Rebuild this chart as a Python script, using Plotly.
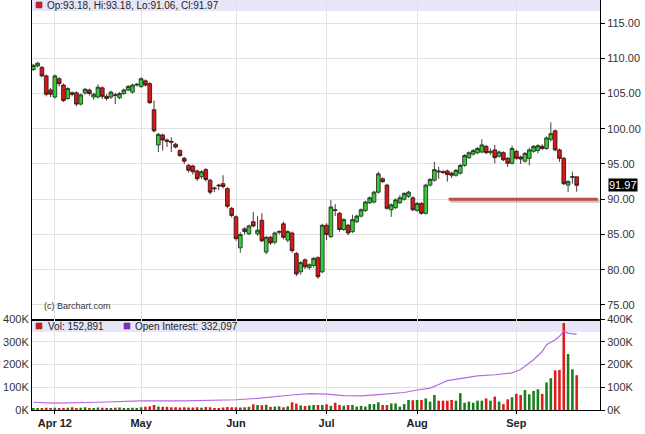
import plotly.graph_objects as go

# ---------------- data ----------------
opens = [108.4, 108.9, 108.7, 107.5, 105.5, 104.5, 107.1, 106.2, 104.3, 105.1,
         105.1, 103.5, 105.1, 105.5, 104.5, 104.5, 105.8, 104.6, 104.5, 104.8,
         104.4, 105.0, 105.5, 105.2, 106.2, 106.0, 106.8, 106.4, 102.7, 97.7,
         99.1, 98.4, 98.2, 97.8, 96.9, 95.8, 94.8, 94.7, 94.0, 93.2,
         94.2, 92.7, 91.6, 92.0, 92.2, 91.5, 88.7, 87.5, 83.1, 85.8,
         85.1, 86.8, 85.1, 87.0, 82.5, 84.6, 83.9, 85.3, 86.5, 84.2,
         85.2, 82.3, 79.7, 81.4, 80.3, 80.6, 81.7, 79.7, 86.3, 84.7,
         88.5, 88.0, 85.7, 86.3, 85.4, 86.8, 87.6, 88.4, 89.5, 89.6,
         91.0, 92.9, 92.0, 88.5, 88.8, 89.5, 90.0, 90.4, 90.2, 88.4,
         89.4, 88.0, 92.0, 92.7, 94.0, 93.9, 94.0, 93.7, 93.4, 93.7,
         94.8, 95.9, 96.4, 96.6, 96.7, 97.5, 96.6, 97.0, 96.1, 96.6,
         95.8, 95.1, 96.8, 96.0, 95.4, 95.8, 96.8, 96.9, 97.5, 97.2,
         98.5, 99.7, 97.0, 95.8, 92.0, 93.1, 93.18]
highs = [109.2, 109.5, 108.9, 107.7, 105.8, 107.7, 107.3, 106.4, 105.9, 105.3,
         105.3, 105.0, 105.8, 105.7, 105.1, 106.3, 106.0, 104.9, 105.4, 105.1,
         105.2, 105.7, 106.2, 106.4, 106.5, 107.3, 107.0, 106.6, 104.0, 99.4,
         99.3, 98.6, 98.8, 98.0, 97.1, 96.0, 95.0, 94.9, 94.2, 94.1,
         94.4, 92.9, 91.8, 92.2, 93.4, 91.7, 88.9, 87.7, 85.3, 86.0,
         86.4, 88.2, 87.6, 88.0, 84.8, 84.8, 85.4, 85.6, 86.8, 85.6,
         85.4, 82.5, 81.2, 81.6, 80.9, 81.8, 81.9, 86.5, 86.6, 89.9,
         89.3, 88.2, 87.3, 86.5, 87.8, 87.8, 88.7, 89.8, 90.4, 91.2,
         93.9, 93.1, 92.2, 89.4, 90.1, 90.6, 91.0, 91.2, 90.4, 89.6,
         89.6, 92.2, 93.0, 95.3, 94.6, 94.1, 94.2, 93.9, 94.3, 95.0,
         96.4, 96.8, 97.1, 97.4, 98.5, 97.7, 97.2, 97.7, 96.9, 96.8,
         96.0, 97.6, 97.0, 96.2, 96.7, 97.3, 97.7, 97.8, 97.8, 98.9,
         100.9, 99.9, 97.2, 96.0, 92.7, 93.9, 93.18]
lows = [108.2, 108.7, 107.3, 104.6, 104.5, 104.3, 106.0, 103.8, 104.1, 104.6,
        103.2, 103.3, 104.8, 104.7, 104.1, 104.3, 104.2, 104.0, 104.2, 103.5,
        104.2, 104.8, 105.3, 105.0, 106.0, 105.8, 106.0, 103.5, 99.5, 96.7,
        96.9, 97.4, 96.7, 97.2, 96.0, 95.0, 93.8, 93.5, 92.6, 92.9,
        92.5, 90.7, 91.0, 91.3, 91.5, 88.7, 87.4, 84.1, 82.4, 85.0,
        84.9, 86.0, 84.8, 83.9, 82.2, 83.5, 83.6, 85.0, 84.3, 83.9,
        82.4, 79.1, 79.3, 80.1, 80.0, 80.3, 78.7, 79.5, 84.2, 84.5,
        87.6, 85.4, 85.5, 84.9, 85.2, 86.6, 87.4, 88.2, 89.3, 89.4,
        90.8, 92.3, 88.5, 87.5, 88.6, 89.3, 89.8, 90.2, 88.3, 88.2,
        87.8, 87.8, 91.8, 92.5, 92.9, 93.6, 92.5, 93.0, 93.2, 93.5,
        94.6, 95.7, 96.2, 96.4, 96.5, 96.4, 96.3, 95.1, 95.9, 95.4,
        94.6, 94.9, 95.6, 95.0, 95.2, 94.8, 96.6, 96.5, 97.0, 97.0,
        98.2, 96.8, 95.3, 92.0, 91.0, 92.2, 91.06]
closes = [109.0, 109.3, 107.5, 104.9, 104.9, 107.5, 106.4, 104.0, 105.7, 104.9,
          103.5, 104.8, 105.6, 105.0, 104.9, 105.9, 104.6, 104.3, 105.2, 104.75,
          105.0, 105.5, 106.0, 106.2, 106.3, 107.1, 106.2, 103.7, 99.7, 99.2,
          98.4, 98.2, 98.1, 97.4, 96.2, 95.4, 94.1, 93.9, 92.9, 93.9,
          92.8, 91.0, 91.5, 91.9, 91.8, 89.0, 87.7, 84.4, 85.0, 85.4,
          86.2, 86.2, 85.6, 84.1, 84.6, 83.8, 85.2, 85.4, 84.6, 85.4,
          82.7, 79.4, 81.0, 80.4, 80.7, 81.6, 79.0, 86.3, 85.0, 88.9,
          88.4, 85.7, 87.1, 85.2, 87.1, 87.6, 88.5, 89.6, 90.2, 91.0,
          93.6, 92.5, 88.7, 89.2, 89.9, 90.2, 90.8, 91.0, 88.5, 89.4,
          88.0, 92.0, 92.8, 94.2, 93.9, 93.8, 93.5, 93.4, 94.1, 94.8,
          96.2, 96.6, 96.9, 97.2, 97.7, 96.6, 96.8, 95.9, 96.7, 95.6,
          95.1, 97.2, 95.8, 95.7, 96.5, 97.0, 97.5, 97.6, 97.2, 98.7,
          99.3, 97.0, 95.8, 92.2, 92.5, 93.2, 91.97]

volume_k = [6, 8, 8, 10, 9,
            10, 8, 9, 10, 12, 8, 10, 12, 9, 8, 11, 10, 9, 8, 10, 11, 9, 8, 10, 9,
            12, 14, 16, 22, 15, 14, 14, 12, 12, 11, 12, 11, 11, 12, 10, 13, 12, 8, 9, 11, 13, 12,
            12, 11, 12, 14, 25, 22, 21, 23, 14, 15, 16, 12, 16, 34, 28, 20, 18, 20, 22, 22,
            22, 25, 18, 32, 22, 19, 22, 22, 15, 18, 15, 26, 26, 34, 22, 22, 29, 29, 15, 26,
            44, 43, 44, 44, 51, 37, 66, 41, 41, 41, 44, 41, 74, 32, 37, 32, 41, 41, 51, 41,
            59, 37, 26, 47, 56, 71, 66, 88, 69, 84, 91, 71, 121, 140, 174, 176, 382, 246, 179, 152.891]

oi_idx = [0, 5, 15, 25, 35, 47, 52, 56, 60, 64, 68, 72, 76, 80, 84, 86, 89, 92, 94, 96,
          99, 103, 107, 111, 113, 115, 116, 118, 119, 121, 122, 123, 124, 126]
oi_k = [34, 30, 34, 40, 40, 45, 51, 60, 66, 72, 70, 63, 62, 68, 74, 77, 88, 96, 112, 129,
        138, 150, 155, 163, 178, 209, 221, 257, 287, 309, 324, 346, 338, 332.097]

month_ticks = [5, 25, 47, 68, 89, 112]
month_labels = ["Apr 12", "May", "Jun", "Jul", "Aug", "Sep"]
price_ticks = [75, 80, 85, 90, 95, 100, 105, 110, 115]
vol_ticks_k = [0, 100, 200, 300, 400]

support_level = 90.0
support_span = (96.3, 130.9)

legend_text = "Op:93.18, Hi:93.18, Lo:91.06, Cl:91.97"
vol_text = "Vol: 152,891"
oi_text = "Open Interest: 332,097"

assert len(opens) == len(highs) == len(lows) == len(closes) == len(volume_k) == 127
assert len(oi_idx) == len(oi_k)

# ---------------- figure ----------------
idx = list(range(len(opens)))
volume = [v * 1000 for v in volume_k]
oi = [v * 1000 for v in oi_k]
vol_colors = ["#1b7d1b" if c >= o else "#e01b1b" for o, c in zip(opens, closes)]

W, H = 645, 434
ML, MR, MT, MB = 32, 45, 0, 24
PW, PH = W - ML - MR, H - MT - MB
split_px = 319  # boundary between price & volume panel (px from top)
vol_dom_top = (PH - split_px) / PH

def px_x(x):
    return (x - ML) / PW

def px_y(y):
    return (PH - (y - MT)) / PH

FONT = "Liberation Sans, Arial, sans-serif"
GRID = "#e2e2e2"

fig = go.Figure()
fig.add_trace(go.Candlestick(
    x=idx, open=opens, high=highs, low=lows, close=closes,
    increasing=dict(fillcolor="#36cc36", line=dict(color="#243524", width=0.9)),
    decreasing=dict(fillcolor="#d81818", line=dict(color="#3a1a1a", width=0.9)),
    whiskerwidth=0, xaxis="x", yaxis="y", showlegend=False, hoverinfo="skip"))
fig.add_trace(go.Bar(
    x=idx, y=volume, marker=dict(color=vol_colors, line=dict(width=0)),
    xaxis="x2", yaxis="y2", showlegend=False, hoverinfo="skip"))
fig.add_trace(go.Scatter(
    x=oi_idx, y=oi, mode="lines", line=dict(color="#b46be0", width=1.2),
    xaxis="x2", yaxis="y3", showlegend=False, hoverinfo="skip"))

xr = [-0.3, 131.4]
fig.update_layout(
    width=W, height=H, margin=dict(l=ML, r=MR, t=MT, b=MB, autoexpand=False),
    paper_bgcolor="white", plot_bgcolor="white",
    font=dict(family=FONT, size=11, color="#333333"),
    bargap=0.4, boxgap=0.15, boxgroupgap=0,
    xaxis=dict(domain=[0, 1], anchor="y", range=xr, tickvals=month_ticks,
               showticklabels=False, ticks="", showgrid=True, gridcolor=GRID,
               zeroline=False, showline=True, linecolor="black", linewidth=2,
               rangeslider=dict(visible=False), matches="x2", automargin=False),
    xaxis2=dict(domain=[0, 1], anchor="y2", range=xr, tickvals=month_ticks,
                ticktext=month_labels, ticks="outside", ticklen=3, tickcolor="black",
                tickfont=dict(family=FONT, size=11, color="#222222", weight="bold"),
                showgrid=True, gridcolor=GRID, zeroline=False,
                showline=True, linecolor="black", linewidth=1, automargin=False),
    yaxis=dict(domain=[vol_dom_top, 1], anchor="x", side="right",
               range=[73.0, 118.27], tickvals=price_ticks,
               ticktext=[f"{v:.2f}" for v in price_ticks],
               ticks="outside", ticklen=4, tickcolor="black",
               showgrid=True, gridcolor=GRID, zeroline=False,
               showline=True, linecolor="black", linewidth=1, mirror=True,
               automargin=False),
    yaxis2=dict(domain=[0, vol_dom_top], anchor="x2", side="right",
                range=[0, 400000], tickvals=[v * 1000 for v in vol_ticks_k],
                ticktext=[f"{v}K" for v in vol_ticks_k],
                ticks="outside", ticklen=4, tickcolor="black",
                showgrid=True, gridcolor=GRID, zeroline=False,
                showline=True, linecolor="black", linewidth=1, automargin=False),
    yaxis3=dict(overlaying="y2", anchor="x2", side="left",
                range=[0, 400000], tickvals=[v * 1000 for v in vol_ticks_k],
                ticktext=[f"{v}K" for v in vol_ticks_k],
                ticks="", showgrid=False, zeroline=False,
                showline=True, linecolor="black", linewidth=1, automargin=False),
)

shapes = []
# legend bands
shapes.append(dict(type="rect", xref="paper", yref="paper", x0=0, x1=1,
                   y0=px_y(11), y1=1, fillcolor="#e6e6f8", line=dict(width=0), layer="below"))
shapes.append(dict(type="rect", xref="paper", yref="paper", x0=0, x1=1,
                   y0=px_y(332), y1=px_y(320), fillcolor="#e6e6f8", line=dict(width=0), layer="below"))
# legend swatches
shapes.append(dict(type="rect", xref="paper", yref="paper", x0=px_x(36), x1=px_x(42),
                   y0=px_y(8), y1=px_y(2), fillcolor="#d81818", line=dict(color="#555", width=0.6)))
shapes.append(dict(type="rect", xref="paper", yref="paper", x0=px_x(36), x1=px_x(42),
                   y0=px_y(329), y1=px_y(323), fillcolor="#d81818", line=dict(color="#555", width=0.6)))
shapes.append(dict(type="rect", xref="paper", yref="paper", x0=px_x(124), x1=px_x(130),
                   y0=px_y(329), y1=px_y(323), fillcolor="#8a22d8", line=dict(color="#555", width=0.6)))
# support line with shadow
shapes.append(dict(type="line", xref="x", yref="y", x0=support_span[0] + 0.4, x1=support_span[1] + 0.4,
                   y0=support_level - 0.3, y1=support_level - 0.3,
                   line=dict(color="rgba(90,90,90,0.35)", width=3)))
shapes.append(dict(type="line", xref="x", yref="y", x0=support_span[0], x1=support_span[1],
                   y0=support_level, y1=support_level,
                   line=dict(color="#bf4f45", width=3)))
fig.update_layout(shapes=shapes)

ann = []
ann.append(dict(xref="paper", yref="paper", x=px_x(45), y=px_y(5.5), text=legend_text,
                showarrow=False, xanchor="left", yanchor="middle",
                font=dict(family=FONT, size=10, color="#222")))
ann.append(dict(xref="paper", yref="paper", x=px_x(46), y=px_y(326), text=vol_text,
                showarrow=False, xanchor="left", yanchor="middle",
                font=dict(family=FONT, size=10, color="#222")))
ann.append(dict(xref="paper", yref="paper", x=px_x(133), y=px_y(326), text=oi_text,
                showarrow=False, xanchor="left", yanchor="middle",
                font=dict(family=FONT, size=10, color="#222")))
ann.append(dict(xref="paper", yref="paper", x=px_x(42), y=px_y(306), text="(c) Barchart.com",
                showarrow=False, xanchor="left", yanchor="middle",
                font=dict(family=FONT, size=9, color="#333")))
ann.append(dict(xref="paper", yref="y", x=1, y=closes[-1], xshift=8,
                text=f"{closes[-1]:.2f}", showarrow=False, xanchor="left", yanchor="middle",
                bgcolor="black", borderpad=0,
                font=dict(family=FONT, size=11, color="white")))
fig.update_layout(annotations=ann)

fig.write_html("out.html", config={"displayModeBar": False},
               post_script="document.body.style.margin='0';document.body.style.overflow='hidden';")
